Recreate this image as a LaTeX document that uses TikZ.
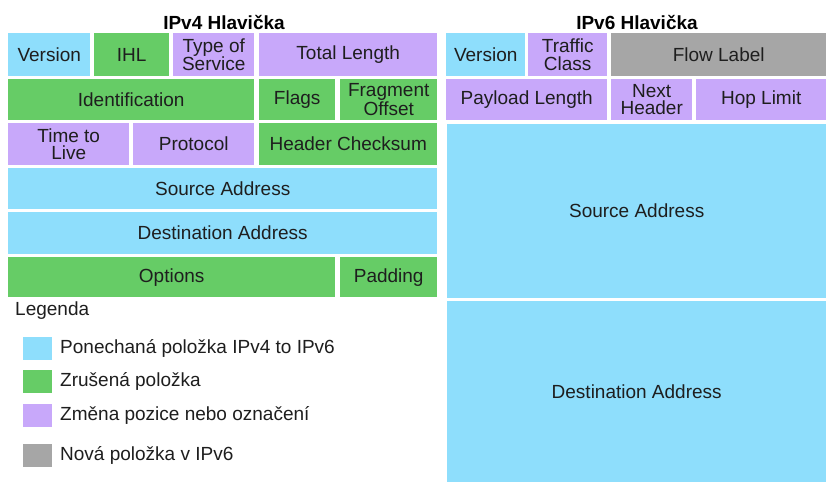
\documentclass[tikz,border=0pt]{standalone}
\usepackage{fontspec}
\setmainfont{Liberation Sans}
\definecolor{cblue}{RGB}{142,222,252}
\definecolor{cgreen}{RGB}{102,204,102}
\definecolor{cpurple}{RGB}{200,168,250}
\definecolor{cgray}{RGB}{166,166,166}
\definecolor{ctext}{RGB}{30,30,30}
\tikzset{
  cell/.style={draw=none, inner sep=0pt, anchor=north west, align=center,
    text=ctext, font=\fontsize{19}{17.5}\selectfont},
  title/.style={inner sep=0pt, font=\fontsize{19}{21}\selectfont\bfseries, text=black},
  legtext/.style={inner sep=0pt, anchor=west, text=ctext, font=\fontsize{19}{21}\selectfont},
  legbox/.style={draw=none, inner sep=0pt, anchor=north west, minimum width=29pt, minimum height=23pt}
}
\newcommand{\cellat}[8]{% name, color, x, y, w, h, text
  \node[cell, fill=#2, minimum width=#5pt, minimum height=#6pt] (#1) at (#3,#4) {#7};}
\begin{document}
\begin{tikzpicture}[x=1pt,y=-1pt]
\useasboundingbox[fill=white] (0,0) rectangle (826,482);
% titles
\node[title] (t4) at (224,22) {IPv4 Hlavička};
\node[title] (t6) at (637,22) {IPv6 Hlavička};
% IPv4 header
\cellat{v4ver}{cblue}{8}{33}{82}{43}{Version}{}
\cellat{v4ihl}{cgreen}{94}{33}{75}{43}{IHL}{}
\cellat{v4tos}{cpurple}{173}{33}{81}{43}{Type of\\Service}{}
\cellat{v4tl}{cpurple}{259}{33}{178}{43}{Total Length}{}
\cellat{v4id}{cgreen}{8}{79}{246}{41}{Identification}{}
\cellat{v4fl}{cgreen}{259}{79}{76}{41}{Flags}{}
\cellat{v4fo}{cgreen}{340}{79}{97}{41}{Fragment\\Offset}{}
\cellat{v4ttl}{cpurple}{8}{123}{121}{42}{Time to\\Live}{}
\cellat{v4pr}{cpurple}{133}{123}{121}{42}{Protocol}{}
\cellat{v4hc}{cgreen}{259}{123}{178}{42}{Header Checksum}{}
\cellat{v4src}{cblue}{8}{168}{429}{41}{Source Address}{}
\cellat{v4dst}{cblue}{8}{212}{429}{42}{Destination Address}{}
\cellat{v4opt}{cgreen}{8}{257}{327}{40}{Options}{}
\cellat{v4pad}{cgreen}{340}{257}{97}{40}{Padding}{}
% IPv6 header
\cellat{v6ver}{cblue}{446}{33}{79}{43}{Version}{}
\cellat{v6tc}{cpurple}{528}{33}{79}{43}{Traffic\\Class}{}
\cellat{v6fl}{cgray}{611}{33}{215}{43}{Flow Label}{}
\cellat{v6pl}{cpurple}{446}{79}{161}{41}{Payload Length}{}
\cellat{v6nh}{cpurple}{611}{79}{81}{41}{Next\\Header}{}
\cellat{v6hl}{cpurple}{696}{79}{130}{41}{Hop Limit}{}
\cellat{v6src}{cblue}{447}{124}{379}{174}{Source Address}{}
\cellat{v6dst}{cblue}{447}{301}{379}{181}{Destination Address}{}
% legend
\node[legtext] (leg) at (15,311) {Legenda};
\node[legbox, fill=cblue] (lb1) at (23,337) {};
\node[legtext] (lt1) at (60,348.5) {Ponechaná položka IPv4 to IPv6};
\node[legbox, fill=cgreen] (lb2) at (23,369.5) {};
\node[legtext] (lt2) at (60,381) {Zrušená položka};
\node[legbox, fill=cpurple] (lb3) at (23,403.5) {};
\node[legtext] (lt3) at (60,415) {Změna pozice nebo označení};
\node[legbox, fill=cgray] (lb4) at (23,444) {};
\node[legtext] (lt4) at (60,455.5) {Nová položka v IPv6};
\end{tikzpicture}
\end{document}
